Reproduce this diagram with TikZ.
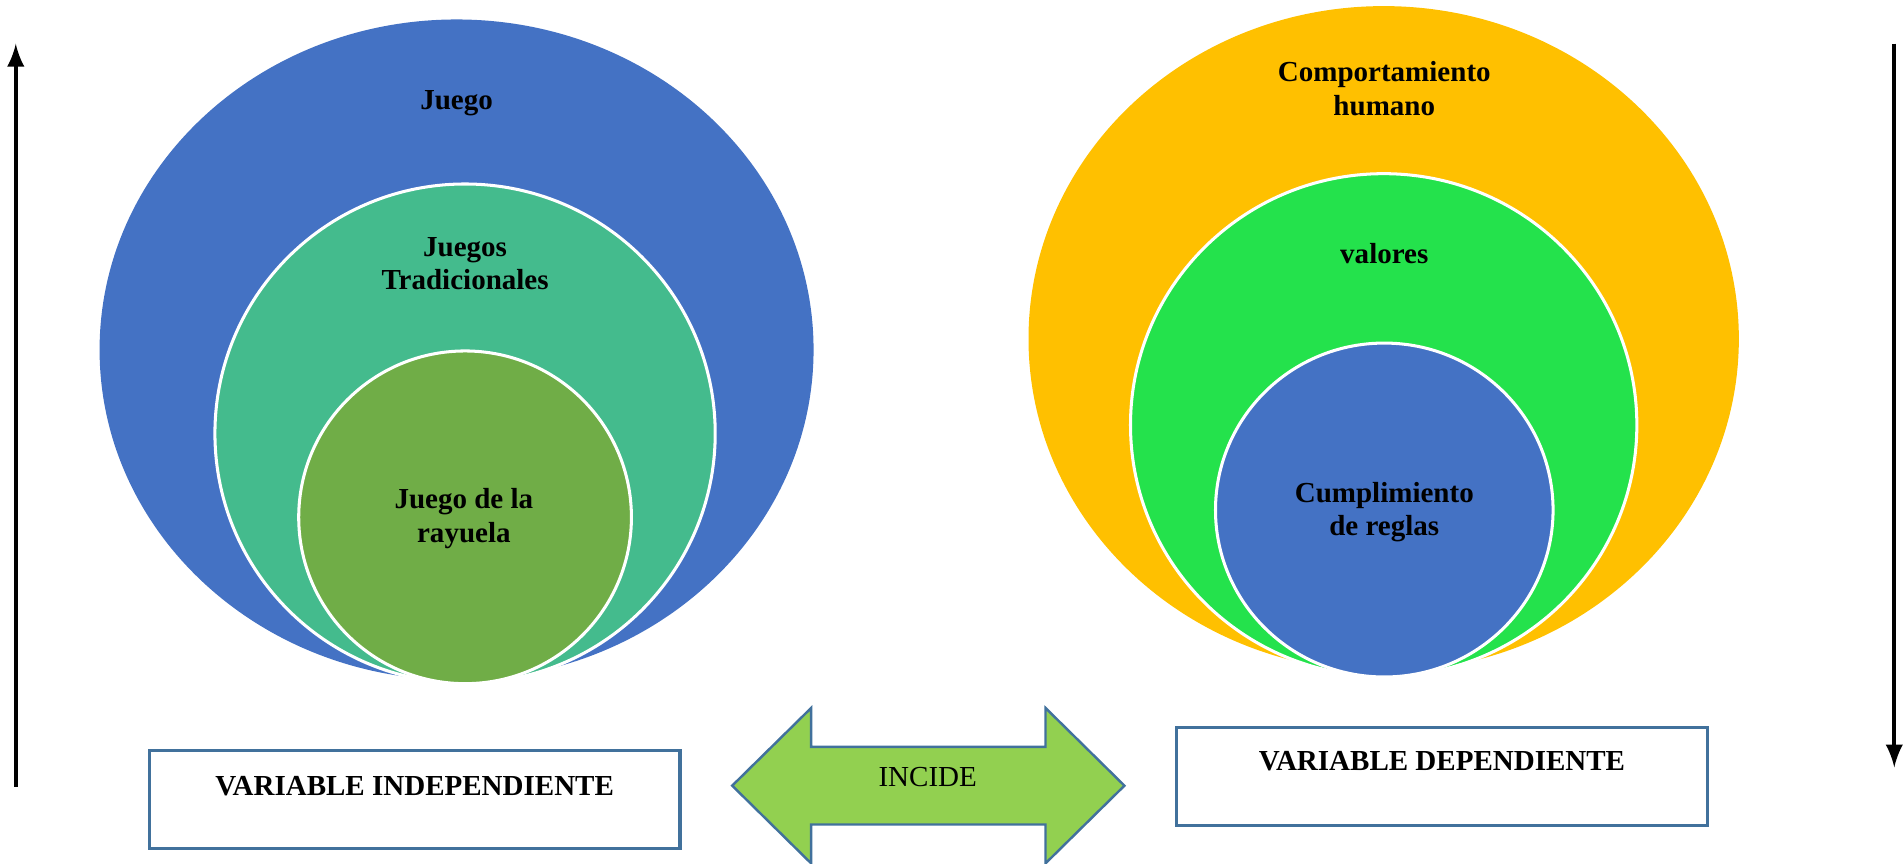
\documentclass[tikz,border=0pt]{standalone}
\usepackage{fontspec}
\setmainfont{Liberation Serif}
\usetikzlibrary{shapes.geometric,arrows}

\definecolor{juegoblue}{HTML}{4472C4}
\definecolor{tradteal}{HTML}{44BB8D}
\definecolor{rayuelagreen}{HTML}{70AD47}
\definecolor{humanoorange}{HTML}{FFC000}
\definecolor{valoresgreen}{HTML}{24E24C}
\definecolor{boxblue}{HTML}{41719C}
\definecolor{incidegreen}{HTML}{92D050}

\begin{document}
\begin{tikzpicture}[x=0.1mm, y=-0.1mm,
  oval/.style={ellipse, draw=white, line width=0.25mm, inner sep=0pt},
  lbl/.style={font=\fontsize{6.8}{7.8}\selectfont\bfseries, align=center},
  varbox/.style={draw=boxblue, line width=0.25mm, minimum width=43.7mm, minimum height=8.1mm}]
  \useasboundingbox (0,0) rectangle (1568,711);

  % variable independiente
  \node[oval, draw=none, fill=juegoblue, minimum width=58.8mm, minimum height=54.4mm] (juego) at (376,288) {};
  \node[oval, fill=tradteal, minimum width=41.2mm, minimum height=41.1mm] (trad) at (383,357) {};
  \node[oval, fill=rayuelagreen, minimum width=27.4mm, minimum height=27.4mm] (rayuela) at (383,426) {};
  \node[lbl] (t-juego) at (376,85) {Juego};
  \node[lbl] (t-trad) at (383,217) {Juegos\\Tradicionales};
  \node[lbl] (t-rayuela) at (382,427) {Juego de la\\rayuela};

  % variable dependiente
  \node[oval, draw=none, fill=humanoorange, minimum width=58.5mm, minimum height=54.8mm] (humano) at (1139.5,279) {};
  \node[oval, fill=valoresgreen, minimum width=41.7mm, minimum height=41.4mm] (valores) at (1139.5,350) {};
  \node[oval, fill=juegoblue, minimum width=27.8mm, minimum height=27.5mm] (reglas) at (1140,420) {};
  \node[lbl] (t-humano) at (1140,73) {Comportamiento\\humano};
  \node[lbl] (t-valores) at (1140,209) {valores};
  \node[lbl] (t-reglas) at (1140,422) {Cumplimiento\\de reglas};

  % cajas
  \node[varbox] (indep) at (341.5,658.5) {};
  \node[lbl] (t-indep) at (341.5,647) {VARIABLE INDEPENDIENTE};
  \node[varbox] (dep) at (1187.5,639.5) {};
  \node[lbl] (t-dep) at (1187.5,627) {VARIABLE DEPENDIENTE};

  % incide
  \draw[draw=boxblue, fill=incidegreen, line width=0.2mm]
    (603,647) -- (668,583) -- (668,615) -- (861,615) -- (861,583) -- (926,647)
    -- (861,711) -- (861,679) -- (668,679) -- (668,711) -- cycle;
  \node[font=\fontsize{6.8}{7.8}\selectfont] (incide) at (764,640) {INCIDE};

  % flechas laterales
  \coordinate (left-foot) at (13,648);
  \coordinate (left-top) at (13,36);
  \coordinate (right-top) at (1560,36);
  \coordinate (right-foot) at (1560,632);
  \path[-latex, line width=0.3mm]
  (left-foot) edge (left-top)
  (right-top) edge (right-foot)
  ;
\end{tikzpicture}
\end{document}
